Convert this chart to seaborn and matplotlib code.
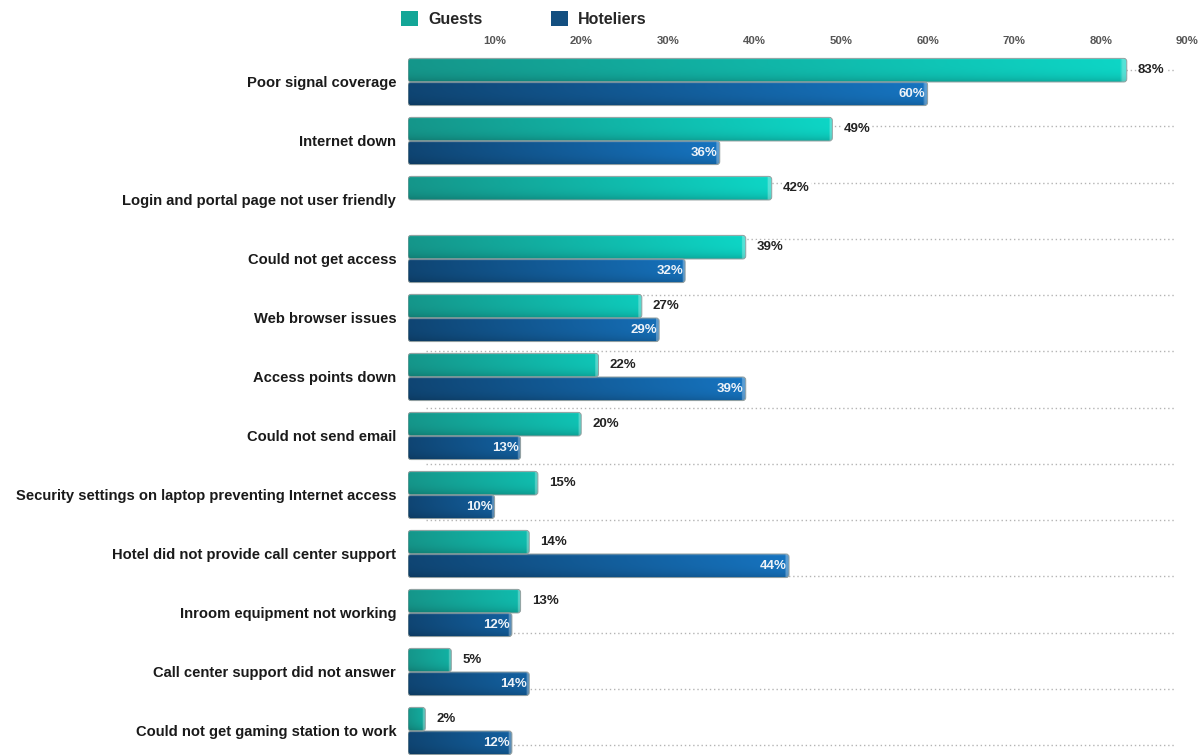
import numpy as np
import pandas as pd
import matplotlib
matplotlib.use("Agg")
import matplotlib.pyplot as plt
import seaborn as sns
from matplotlib.patches import FancyBboxPatch, Patch
from matplotlib.colors import to_rgb

# ---- data -------------------------------------------------------------
categories = [
    "Poor signal coverage",
    "Internet down",
    "Login and portal page not user friendly",
    "Could not get access",
    "Web browser issues",
    "Access points down",
    "Could not send email",
    "Security settings on laptop preventing Internet access",
    "Hotel did not provide call center support",
    "Inroom equipment not working",
    "Call center support did not answer",
    "Could not get gaming station to work",
]
guests = [83, 49, 42, 39, 27, 22, 20, 15, 14, 13, 5, 2]
hoteliers = [60, 36, None, 32, 29, 39, 13, 10, 44, 12, 14, 12]
series = ["Guests", "Hoteliers"]
tick_values = [10, 20, 30, 40, 50, 60, 70, 80, 90]
tick_labels = [f"{v}%" for v in tick_values]

# ---- style -----------------------------------------------------------
sns.set_theme(style="white")
plt.rcParams["font.family"] = ["Liberation Sans", "DejaVu Sans"]

legend_colors = {"Guests": "#13a697", "Hoteliers": "#134f80"}
grad = {
    "Guests": (to_rgb("#15968a"), to_rgb("#0dd6c6")),
    "Hoteliers": (to_rgb("#0f4573"), to_rgb("#1674c0")),
}

df = pd.DataFrame({
    "category": categories * 2,
    "series": ["Guests"] * len(categories) + ["Hoteliers"] * len(categories),
    "value": guests + hoteliers,
}).dropna()
df["value"] = df["value"].astype(float)

W, H = 1202, 755
fig = plt.figure(figsize=(W / 100, H / 100), dpi=100)
ax = fig.add_axes([408 / W, 0.0, (1190 - 408) / W, (H - 50) / H])

sns.barplot(
    data=df, x="value", y="category", hue="series",
    order=categories, hue_order=series, orient="h",
    palette=legend_colors, errorbar=None, legend=False,
    width=0.8, ax=ax,
)

XMAX = 90.3
YTOP, YBOT = -0.542, 11.407
ax.set_xlim(0, XMAX)
ax.set_ylim(YBOT, YTOP)

# pixel scale of the data units, used for rounded corners and end caps
px_x = (1190 - 408) / XMAX
px_y = (H - 50) / (YBOT - YTOP)


def bar_image(c_left, c_right, end_t, cap_frac, n=256, m=32):
    t = np.linspace(0, 1, n)[:, None]
    cl, cr = np.array(c_left), np.array(c_right)
    cr = cl + (cr - cl) * end_t
    row = cl[None, :] * (1 - t) + cr[None, :] * t
    img = np.repeat(row[None, :, :], m, axis=0)
    v = np.linspace(0, 1, m)[:, None, None]
    img = img * (1.0 - 0.18 * v ** 4)
    img[:2] = img[:2] * 0.9 + 0.1
    cap = (np.linspace(0, 1, n) > 1 - cap_frac)
    img[:, cap] = img[:, cap] * 0.7 + 0.3
    return np.clip(img, 0, 1)


labels = []
for p in list(ax.patches):
    x0, y0, w, h = p.get_x(), p.get_y(), p.get_width(), p.get_height()
    p.set_visible(False)
    if not np.isfinite(w) or w <= 0:
        continue
    yc = y0 + h / 2
    name = "Guests" if yc < round(yc) else "Hoteliers"
    box = FancyBboxPatch(
        (x0, y0), w, h,
        boxstyle="round,pad=0,rounding_size=%.3f" % (3.0 / px_x),
        mutation_aspect=px_x / px_y,
        facecolor="none", edgecolor="#94a0a0", linewidth=0.7, zorder=4,
    )
    ax.add_patch(box)
    end_t = min(1.0, 0.35 + w / 55.0)
    cap_frac = min(0.4, 3.0 / (w * px_x))
    im = ax.imshow(
        bar_image(*grad[name], end_t, cap_frac),
        extent=(x0, x0 + w, y0 + h, y0), origin="upper",
        aspect="auto", interpolation="bilinear", zorder=3,
    )
    im.set_clip_path(box)
    labels.append((name, x0 + w, yc, w))

# value labels
for name, xe, yc, w in labels:
    txt = f"{w:.0f}%"
    if name == "Guests":
        ax.annotate(txt, (xe, yc), xytext=(8, 0), textcoords="offset points",
                    ha="left", va="center", fontsize=9.5, fontweight="bold",
                    color="#222222", zorder=6,
                    bbox=dict(boxstyle="square,pad=0.1", fc="white", ec="none"))
    else:
        ax.annotate(txt, (xe, yc), xytext=(-1.5, 0), textcoords="offset points",
                    ha="right", va="center", fontsize=9.5, fontweight="bold",
                    color="#eef3f8", zorder=6)

# dotted guide lines behind the bars
for gy in np.linspace(-0.2, 11.24, 13):
    ax.plot([2.1, 88.6], [gy, gy], color="#b4b4b4", linewidth=1.0,
            linestyle=(0, (1, 2)), zorder=1)

ax.set_xlim(0, XMAX)
ax.set_ylim(YBOT, YTOP)

ax.xaxis.tick_top()
ax.set_xticks(tick_values)
ax.set_xticklabels(tick_labels, fontsize=8.2, fontweight="bold", color="#555555")
ax.tick_params(axis="x", length=0, pad=3)
ax.tick_params(axis="y", length=0, pad=8.5)
for t in ax.get_yticklabels():
    t.set_fontsize(10.6)
    t.set_fontweight("bold")
    t.set_color("#1a1a1a")
ax.set_xlabel("")
ax.set_ylabel("")
ax.grid(False)
for s in ax.spines.values():
    s.set_visible(False)

handles = [Patch(facecolor=legend_colors[s], edgecolor="none", label=s) for s in series]
fig.legend(handles=handles, loc="upper left",
           bbox_to_anchor=(401 / W, 1 - 11 / H), bbox_transform=fig.transFigure,
           ncol=2, frameon=False, borderpad=0, borderaxespad=0,
           handlelength=1.05, handleheight=1.05, handletextpad=0.65,
           columnspacing=4.3, prop={"weight": "bold", "size": 11.5})

fig.savefig("out.png", dpi=100)
